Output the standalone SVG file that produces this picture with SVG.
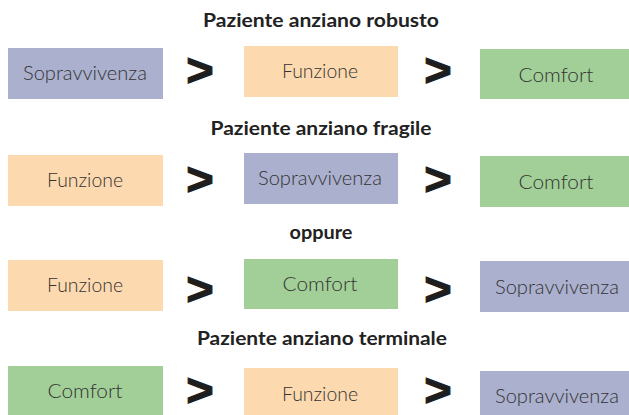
<svg xmlns="http://www.w3.org/2000/svg" width="629" height="415" viewBox="0 0 629 415">
<style>
.p{fill:#abb0ce}.o{fill:#fdd9b0}.g{fill:#a2cf98}
.t{font-family:Lato,"Liberation Sans",sans-serif;font-size:19px;font-weight:300;fill:#333;text-anchor:middle}
.h{font-family:Lato,"Liberation Sans",sans-serif;font-size:18px;font-weight:bold;fill:#222;text-anchor:middle}
.gt{font-family:"Liberation Sans",sans-serif;font-size:47px;font-weight:bold;fill:#1e1e1e;stroke:#1e1e1e;stroke-width:1.2;text-anchor:middle}
</style>
<rect width="629" height="415" fill="#fff"/>
<g id="titles">
<text class="h" x="321" y="27" textLength="236" lengthAdjust="spacingAndGlyphs">Paziente anziano robusto</text>
<text class="h" x="321" y="135" textLength="221" lengthAdjust="spacingAndGlyphs">Paziente anziano fragile</text>
<text class="h" x="321" y="239" textLength="63" lengthAdjust="spacingAndGlyphs">oppure</text>
<text class="h" x="322" y="345" textLength="250" lengthAdjust="spacingAndGlyphs">Paziente anziano terminale</text>
</g>
<g id="r1a"><rect class="p" x="8" y="48" width="155" height="51"/><text class="t" x="85" y="80" textLength="124" lengthAdjust="spacingAndGlyphs">Sopravvivenza</text></g>
<g id="r1b"><rect class="o" x="244" y="46" width="154" height="51"/><text class="t" x="320" y="78" textLength="76" lengthAdjust="spacingAndGlyphs">Funzione</text></g>
<g id="r1c"><rect class="g" x="480" y="49" width="149" height="50"/><text class="t" x="556" y="82" textLength="75" lengthAdjust="spacingAndGlyphs">Comfort</text></g>
<g id="r2a"><rect class="o" x="8" y="155" width="155" height="51"/><text class="t" x="85" y="187" textLength="76" lengthAdjust="spacingAndGlyphs">Funzione</text></g>
<g id="r2b"><rect class="p" x="244" y="153" width="154" height="51"/><text class="t" x="320" y="185" textLength="124" lengthAdjust="spacingAndGlyphs">Sopravvivenza</text></g>
<g id="r2c"><rect class="g" x="480" y="156" width="149" height="51"/><text class="t" x="556" y="189" textLength="75" lengthAdjust="spacingAndGlyphs">Comfort</text></g>
<g id="r3a"><rect class="o" x="8" y="260" width="155" height="51"/><text class="t" x="85" y="292" textLength="76" lengthAdjust="spacingAndGlyphs">Funzione</text></g>
<g id="r3b"><rect class="g" x="244" y="259" width="154" height="50"/><text class="t" x="320" y="291" textLength="75" lengthAdjust="spacingAndGlyphs">Comfort</text></g>
<g id="r3c"><rect class="p" x="480" y="261" width="149" height="51"/><text class="t" x="557" y="294" textLength="124" lengthAdjust="spacingAndGlyphs">Sopravvivenza</text></g>
<g id="r4a"><rect class="g" x="8" y="366" width="155" height="49"/><text class="t" x="85" y="398" textLength="75" lengthAdjust="spacingAndGlyphs">Comfort</text></g>
<g id="r4b"><rect class="o" x="244" y="368" width="154" height="47"/><text class="t" x="320" y="401" textLength="76" lengthAdjust="spacingAndGlyphs">Funzione</text></g>
<g id="r4c"><rect class="p" x="480" y="371" width="149" height="44"/><text class="t" x="557" y="403" textLength="124" lengthAdjust="spacingAndGlyphs">Sopravvivenza</text></g>
<g id="connectors">
<text class="gt" x="200" y="86">&gt;</text><text class="gt" x="438" y="86">&gt;</text>
<text class="gt" x="200" y="195">&gt;</text><text class="gt" x="438" y="195">&gt;</text>
<text class="gt" x="200" y="305">&gt;</text><text class="gt" x="438" y="305">&gt;</text>
<text class="gt" x="200" y="406">&gt;</text><text class="gt" x="438" y="406">&gt;</text>
</g>
</svg>
